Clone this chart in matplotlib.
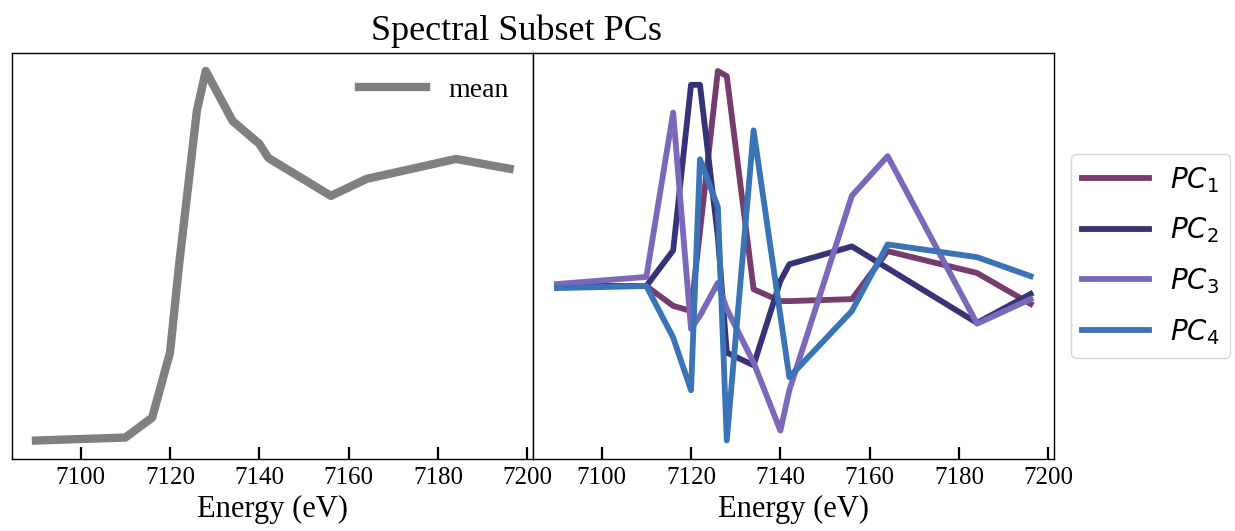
import matplotlib
matplotlib.use("Agg")
import matplotlib.pyplot as plt

energy = [7090, 7110, 7116, 7120, 7122, 7126, 7128, 7134, 7140, 7142, 7156, 7164, 7184, 7196]

mean_spectrum = [0.000, 0.012, 0.093, 0.357, 0.709, 1.338, 1.500, 1.297, 1.204, 1.147,
                 0.993, 1.062, 1.143, 1.103]

pc1 = [0.000, 0.000, -0.050, -0.063, 0.138, 0.543, 0.530, -0.008, -0.038, -0.038,
       -0.033, 0.088, 0.033, -0.045]
pc2 = [0.000, 0.000, 0.090, 0.508, 0.508, 0.125, -0.168, -0.200, 0.013, 0.055,
       0.100, 0.045, -0.093, -0.020]
pc3 = [0.005, 0.023, 0.438, -0.108, -0.075, 0.008, -0.058, -0.193, -0.365, -0.263,
       0.228, 0.328, -0.095, -0.033]
pc4 = [-0.005, 0.000, -0.130, -0.263, 0.320, 0.200, -0.390, 0.393, -0.075, -0.230,
       -0.063, 0.105, 0.073, 0.025]

pc_series = [pc1, pc2, pc3, pc4]
pc_labels = [r"$PC_1$", r"$PC_2$", r"$PC_3$", r"$PC_4$"]
pc_colors = ["#773c6e", "#363378", "#7c68bb", "#3a74b6"]

xticks = [7100, 7120, 7140, 7160, 7180, 7200]
title = "Spectral Subset PCs"
xlabel = "Energy (eV)"

plt.rcParams["font.family"] = ["Liberation Serif", "DejaVu Serif"]
plt.rcParams["mathtext.fontset"] = "dejavusans"

fig = plt.figure(figsize=(12.35, 5.31), dpi=100)
W, H = 1235.0, 531.0
ax_l = fig.add_axes([12.3 / W, 1 - 459 / H, 521 / W, 406.5 / H])
ax_r = fig.add_axes([533.3 / W, 1 - 459 / H, 521 / W, 406.5 / H])

ax_l.plot(energy, mean_spectrum, color="#808080", lw=6, label="mean")
for ys, lab, col in zip(pc_series, pc_labels, pc_colors):
    ax_r.plot(energy, ys, color=col, lw=4.2, label=lab)

for ax in (ax_l, ax_r):
    ax.set_xlim(7084.7, 7201.3)
    ax.set_xticks(xticks)
    ax.tick_params(axis="x", direction="in", length=8.5, width=1.6, pad=6,
                   labelsize=18, top=False)
    ax.tick_params(axis="y", left=False, right=False, labelleft=False)
    ax.set_xlabel(xlabel, fontsize=22, labelpad=4)
    for s in ax.spines.values():
        s.set_linewidth(1.0)

ax_l.legend(loc="upper right", frameon=False, fontsize=20, handlelength=2.4)
ax_r.legend(loc="center left", bbox_to_anchor=(1.006, 0.5), fontsize=20,
            handlelength=2.4, handletextpad=0.75, labelspacing=0.75, borderpad=0.4)

fig.text(516 / W, 1 - 40 / H, title, ha="center", va="baseline", fontsize=26)

fig.savefig("out.png", dpi=100)
